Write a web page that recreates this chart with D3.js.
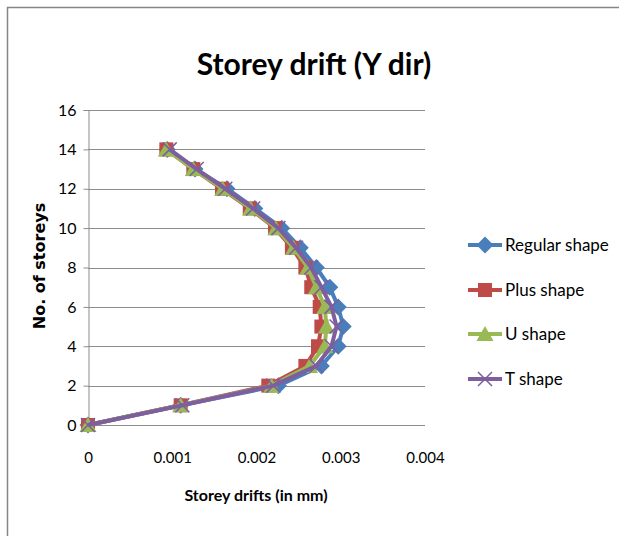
<!DOCTYPE html>
<html>
<head>
<meta charset="utf-8">
<script src="https://cdn.jsdelivr.net/npm/d3@7"></script>
<style>
  body { margin: 0; background: #fff; }
  text { font-family: Lato, 'Open Sans', sans-serif; }
</style>
</head>
<body>
<div id="chart"></div>
<script>
var storeys = [0, 1, 2, 3, 4, 5, 6, 7, 8, 9, 10, 11, 12, 13, 14]
var regular = [0, 0.0011, 0.00226, 0.00277, 0.00297, 0.00303, 0.00297, 0.00287, 0.00271, 0.00252, 0.0023, 0.00198, 0.00165, 0.00127, 0.00094]
var plus = [0, 0.0011, 0.00214, 0.00258, 0.00273, 0.00277, 0.00275, 0.00265, 0.00258, 0.00242, 0.00222, 0.00192, 0.00159, 0.00125, 0.00093]
var ushape = [0, 0.0011, 0.00218, 0.00263, 0.00281, 0.00283, 0.00281, 0.00271, 0.00261, 0.00244, 0.00223, 0.00193, 0.0016, 0.00125, 0.00093]
var tshape = [0, 0.00112, 0.0022, 0.00271, 0.00289, 0.00295, 0.00289, 0.00277, 0.00265, 0.00247, 0.00226, 0.00196, 0.00163, 0.00129, 0.00097]
var xTicks = [0, 0.001, 0.002, 0.003, 0.004]
var yTicks = [0, 2, 4, 6, 8, 10, 12, 14, 16]

var series = [
  { name: 'Regular shape', values: regular, color: '#4a7ebb', shape: 'diamond' },
  { name: 'Plus shape', values: plus, color: '#be4b48', shape: 'square' },
  { name: 'U shape', values: ushape, color: '#98b954', shape: 'triangle' },
  { name: 'T shape', values: tshape, color: '#7d5fa0', shape: 'x' }
]

var w = 619
var h = 536
var svg = d3.select('#chart').append('svg').attr('width', w).attr('height', h)

// outer chart border
svg.append('rect').attr('x', 7.5).attr('y', 7.5).attr('width', 640).attr('height', 560)
  .attr('fill', 'none').attr('stroke', '#868686').attr('stroke-width', 1.5)

var x = d3.scaleLinear().domain([0, 0.004]).range([88, 425])
var y = d3.scaleLinear().domain([0, 16]).range([425, 110])

// gridlines
svg.append('g').selectAll('line').data(yTicks).enter().append('line')
  .attr('x1', x(0)).attr('x2', x(0.004))
  .attr('y1', function (d) { return Math.round(y(d)) + 0.5 })
  .attr('y2', function (d) { return Math.round(y(d)) + 0.5 })
  .attr('stroke', '#8c8c8c').attr('stroke-width', 1)

// y axis
var yAxis = svg.append('g').attr('transform', 'translate(' + (x(0) + 0.5) + ',0)')
  .call(d3.axisLeft(y).tickValues(yTicks).tickSize(5).tickPadding(7))
yAxis.selectAll('path, line').attr('stroke', '#8c8c8c')
yAxis.selectAll('text').attr('font-size', 16).attr('fill', '#000')
  .style('font-family', 'Lato, sans-serif')

// x axis labels
var xAxis = svg.append('g').attr('transform', 'translate(0,' + y(0) + ')')
  .call(d3.axisBottom(x).tickValues(xTicks).tickSize(0).tickPadding(27).tickFormat(function (d) { return d === 0 ? '0' : d3.format('.3f')(d) }))
xAxis.select('.domain').remove()
xAxis.selectAll('text').attr('font-size', 15).attr('fill', '#000')
  .style('font-family', 'Lato, sans-serif')

// lines
var line = d3.line()
  .x(function (d) { return x(d[0]) })
  .y(function (d) { return y(d[1]) })

function drawMarker (g, s, cx, cy) {
  var p = g.append('path').attr('transform', 'translate(' + cx + ',' + cy + ')')
  if (s.shape === 'x') {
    var r = 7
    p.attr('d', 'M' + (-r) + ',' + (-r) + 'L' + r + ',' + r + 'M' + (-r) + ',' + r + 'L' + r + ',' + (-r))
      .attr('stroke', s.color).attr('stroke-width', 1.5).attr('fill', 'none')
  } else if (s.shape === 'triangle') {
    p.attr('d', 'M0,-8L8.5,7L-8.5,7Z').attr('fill', s.color)
  } else if (s.shape === 'square') {
    p.attr('d', 'M-7,-7H7V7H-7Z').attr('fill', s.color)
  } else {
    p.attr('d', 'M0,-8.5L8.5,0L0,8.5L-8.5,0Z').attr('fill', s.color)
  }
}

series.forEach(function (s) {
  var pts = s.values.map(function (v, i) { return [v, storeys[i]] })
  var g = svg.append('g')
  g.append('path').attr('d', line(pts)).attr('fill', 'none')
    .attr('stroke', s.color).attr('stroke-width', 4).attr('stroke-linejoin', 'round')
  pts.forEach(function (p) { drawMarker(g, s, x(p[0]), y(p[1])) })
})

// title
svg.append('text').attr('x', 314).attr('y', 75).attr('text-anchor', 'middle')
  .attr('font-size', 30).attr('font-weight', 'bold').text('Storey drift (Y dir)')

// axis titles
svg.append('text').attr('x', 256).attr('y', 501).attr('text-anchor', 'middle')
  .attr('font-size', 16).attr('font-weight', 'bold').text('Storey drifts (in mm)')
svg.append('text').attr('transform', 'translate(45,266) rotate(-90)').attr('text-anchor', 'middle')
  .attr('font-size', 16).attr('font-weight', 'bold').style('font-family', "'DejaVu Sans', Verdana, sans-serif")
  .text('No. of storeys')

// legend
var legendY = [245, 290, 334, 379]
series.forEach(function (s, i) {
  var g = svg.append('g').attr('transform', 'translate(0,' + legendY[i] + ')')
  g.append('line').attr('x1', 468).attr('x2', 502).attr('y1', 0).attr('y2', 0)
    .attr('stroke', s.color).attr('stroke-width', 4)
  drawMarker(g, s, 485, 0)
  g.append('text').attr('x', 505).attr('y', 6).attr('font-size', 17).text(s.name)
})
</script>
</body>
</html>
